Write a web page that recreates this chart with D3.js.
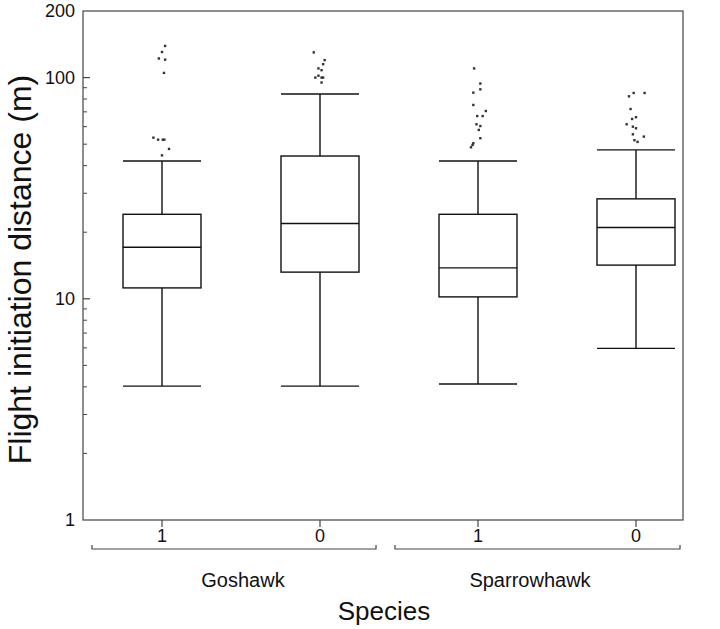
<!DOCTYPE html>
<html><head><meta charset="utf-8">
<script src="https://cdn.jsdelivr.net/npm/d3@7"></script>
<style>body{margin:0;background:#fff}svg{display:block}text{font-family:"Liberation Sans",Arial,Helvetica,sans-serif;fill:#111}</style>
</head><body><svg id="c" width="720" height="629"></svg>
<script>
// ---- data ----
const categories = ["Goshawk|1","Goshawk|0","Sparrowhawk|1","Sparrowhawk|0"];
const tickLabels = ["1","0","1","0"];
const species = ["Goshawk","Sparrowhawk"];
const whiskerLow = [4.03, 4.03, 4.12, 5.97];
const q1 = [11.2, 13.2, 10.2, 14.2];
const median = [17.1, 21.9, 13.8, 21.0];
const q3 = [24.1, 44.2, 24.1, 28.3];
const whiskerHigh = [42, 84.3, 42, 47.1];
// outliers: [value, horizontal jitter as fraction of box width]
const outliers0 = [[139,0.04],[130.5,0.00],[122,-0.04],[120.5,0.04],[105,0.025],[53.5,-0.11],[52.4,-0.05],[52.4,0.01],[52.4,0.03],[47.6,0.09],[44.5,0.00]];
const outliers1 = [[130,-0.08],[120,0.06],[115,0.04],[110,-0.02],[108,0.02],[102,-0.02],[100,-0.06],[100,0.02],[100,0.04],[95,0.02]];
const outliers2 = [[110,-0.05],[94,0.03],[88.5,0.03],[85.5,-0.06],[75.2,-0.06],[70.6,0.10],[67,-0.01],[67,0.06],[61.5,-0.02],[60.4,0.03],[58,0.01],[53.2,0.03],[50.5,-0.06],[49.6,-0.07],[48.4,-0.09]];
const outliers3 = [[85.2,-0.03],[85.2,0.11],[82.3,-0.09],[72.1,-0.07],[66.2,0.00],[65,-0.05],[61.5,-0.12],[60,-0.04],[59,0.00],[55.4,-0.04],[54.1,0.10],[52.1,-0.02],[51.2,0.02]];
const outliers = [outliers0, outliers1, outliers2, outliers3];
const yTicks = [1, 10, 100, 200];
const yMinor = [2,3,4,5,6,7,8,9,20,30,40,50,60,70,80,90];

// ---- layout ----
const svg = d3.select("#c");
const L = 83, R = 683, T = 11, B = 520;
const y = d3.scaleLog().domain([1, 200]).range([B, T]);
const x = d3.scalePoint().domain(categories).range([162, 636]);
const bw = 78;
const ink = "#111", frame = "#444";

// frame
svg.append("rect").attr("x", L).attr("y", T).attr("width", R - L).attr("height", B - T)
  .attr("fill", "none").attr("stroke", frame).attr("stroke-width", 1.2);

// y axis ticks (inward)
const ya = svg.append("g");
yTicks.forEach(v => {
  if (v !== 1 && v !== 200) ya.append("line").attr("x1", L).attr("x2", L + 7).attr("y1", y(v)).attr("y2", y(v)).attr("stroke", frame).attr("stroke-width", 1.2);
  ya.append("text").attr("x", 75).attr("y", y(v)).attr("dy", "0.36em").attr("text-anchor", "end").attr("font-size", 18).text(v);
});
yMinor.forEach(v => {
  ya.append("line").attr("x1", L).attr("x2", L + 4).attr("y1", y(v)).attr("y2", y(v)).attr("stroke", frame).attr("stroke-width", 1);
});

// y title
svg.append("text").attr("transform", `translate(31,${(T + B) / 2 + 4}) rotate(-90)`).attr("text-anchor", "middle")
  .attr("font-size", 32).text("Flight initiation distance (m)");

// boxes
categories.forEach((c, i) => {
  const cx = x(c), g = svg.append("g");
  const line = (x1, y1, x2, y2) => g.append("line").attr("x1", x1).attr("y1", y1).attr("x2", x2).attr("y2", y2).attr("stroke", ink).attr("stroke-width", 1.4);
  line(cx, y(q3[i]), cx, y(whiskerHigh[i]));
  line(cx, y(q1[i]), cx, y(whiskerLow[i]));
  line(cx - bw / 2, y(whiskerHigh[i]), cx + bw / 2, y(whiskerHigh[i]));
  line(cx - bw / 2, y(whiskerLow[i]), cx + bw / 2, y(whiskerLow[i]));
  g.append("rect").attr("x", cx - bw / 2).attr("y", y(q3[i])).attr("width", bw).attr("height", y(q1[i]) - y(q3[i]))
    .attr("fill", "none").attr("stroke", ink).attr("stroke-width", 1.4);
  line(cx - bw / 2, y(median[i]), cx + bw / 2, y(median[i]));
  outliers[i].forEach(([v, j]) => {
    g.append("rect").attr("x", cx + j * bw - 1.2).attr("y", y(v) - 1.2).attr("width", 2.4).attr("height", 2.4).attr("fill", "#333");
  });
  // bottom tick + label
  svg.append("line").attr("x1", cx).attr("x2", cx).attr("y1", B).attr("y2", B + 7).attr("stroke", frame).attr("stroke-width", 1.2);
  svg.append("text").attr("x", cx).attr("y", 542).attr("text-anchor", "middle").attr("font-size", 18).text(tickLabels[i]);
});

// species brackets
const brackets = [[92, 376], [395, 680]];
const labelX = [243, 530];
species.forEach((s, k) => {
  const [a, b] = brackets[k];
  svg.append("path").attr("d", `M${a},${545}V${549}H${b}V${545}`).attr("fill", "none").attr("stroke", frame).attr("stroke-width", 1.2);
  svg.append("text").attr("x", labelX[k]).attr("y", 587).attr("text-anchor", "middle").attr("font-size", 20).text(s);
});
svg.append("text").attr("x", 384).attr("y", 620).attr("text-anchor", "middle").attr("font-size", 26).text("Species");
</script></body></html>
